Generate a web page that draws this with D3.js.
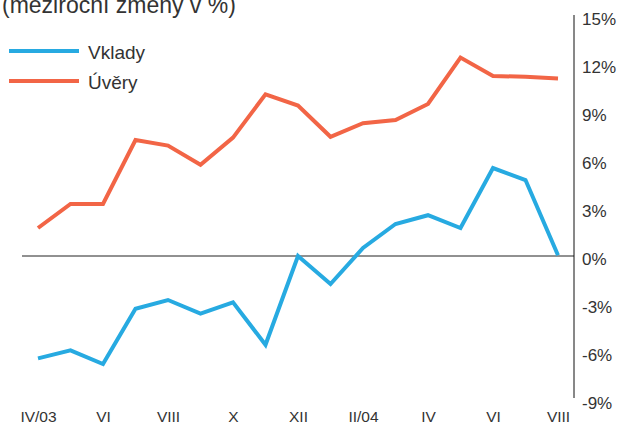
<!DOCTYPE html>
<html>
<head>
<meta charset="utf-8">
<script src="https://cdn.jsdelivr.net/npm/d3@7"></script>
<style>
  body { margin: 0; background: #fff; }
  text { font-family: "Liberation Sans", Arial, sans-serif; fill: #333; }
</style>
</head>
<body>
<div id="chart"></div>
<script>
// Data (year-on-year changes, %), monthly IV/2003 - VIII/2004
var months = ["2003-04", "2003-05", "2003-06", "2003-07", "2003-08", "2003-09",
              "2003-10", "2003-11", "2003-12", "2004-01", "2004-02", "2004-03",
              "2004-04", "2004-05", "2004-06", "2004-07", "2004-08"];
var tickMonths = ["2003-04", "2003-06", "2003-08", "2003-10", "2003-12",
                  "2004-02", "2004-04", "2004-06", "2004-08"];
var tickLabels = ["IV/03", "VI", "VIII", "X", "XII", "II/04", "IV", "VI", "VIII"];
var vklady = [-6.4, -5.9, -6.75, -3.3, -2.75, -3.6, -2.9, -5.55, 0.0,
              -1.75, 0.5, 2.0, 2.55, 1.75, 5.5, 4.75, 0.05];
var uvery = [1.75, 3.25, 3.25, 7.25, 6.9, 5.7, 7.4, 10.1, 9.4,
             7.45, 8.3, 8.5, 9.5, 12.4, 11.25, 11.2, 11.1];
var yTicks = [15, 12, 9, 6, 3, 0, -3, -6, -9];

var width = 622;
var height = 425;

var svg = d3.select("#chart")
    .append("svg")
    .attr("width", width)
    .attr("height", height);

// Scales
var xScale = d3.scalePoint()
    .domain(months)
    .range([38, 558]);

var yScale = d3.scaleLinear()
    .domain([-9, 15])
    .range([400, 16]);

// Zero line
svg.append("line")
    .attr("x1", 22)
    .attr("x2", 574)
    .attr("y1", yScale(0))
    .attr("y2", yScale(0))
    .attr("stroke", "#222")
    .attr("stroke-width", 1);

// Right axis
var yAxis = svg.append("g")
    .attr("transform", "translate(574,0)")
    .call(d3.axisRight(yScale).tickValues(yTicks).tickSize(0).tickPadding(8)
        .tickFormat(function(d) { return d + "%"; }));
yAxis.select(".domain")
    .attr("d", "M0," + (yScale(15) - 1) + "V" + (yScale(-9) - 2))
    .attr("stroke", "#111");
yAxis.selectAll("text")
    .style("font-size", "17px")
    .style("font-family", "'Liberation Sans', Arial, sans-serif")
    .attr("fill", "#444")
    .attr("dy", "0.48em");

// Bottom labels
var xAxis = svg.append("g")
    .attr("transform", "translate(0,411)")
    .call(d3.axisBottom(xScale).tickValues(tickMonths)
        .tickSize(0).tickPadding(0)
        .tickFormat(function(d, i) { return tickLabels[i]; }));
xAxis.select(".domain").remove();
xAxis.selectAll("text")
    .style("font-size", "15.5px")
    .style("font-family", "'Liberation Sans', Arial, sans-serif")
    .attr("fill", "#444");

// Lines
var line = d3.line()
    .x(function(d, i) { return xScale(months[i]); })
    .y(function(d) { return yScale(d); });

svg.append("path")
    .datum(uvery)
    .attr("fill", "none")
    .attr("stroke", "#f26546")
    .attr("stroke-width", 4)
    .attr("d", line);

svg.append("path")
    .datum(vklady)
    .attr("fill", "none")
    .attr("stroke", "#27aae1")
    .attr("stroke-width", 4)
    .attr("d", line);

// Title (partly cut off at top, as in the original)
svg.append("text")
    .attr("x", 2)
    .attr("y", 13)
    .style("font-size", "23px")
    .text("(meziroční změny v %)");

// Legend
var legend = svg.append("g");
legend.append("line")
    .attr("x1", 9).attr("x2", 79)
    .attr("y1", 51).attr("y2", 51)
    .attr("stroke", "#27aae1").attr("stroke-width", 4);
legend.append("text")
    .attr("x", 88).attr("y", 59)
    .style("font-size", "19px")
    .text("Vklady");
legend.append("line")
    .attr("x1", 9).attr("x2", 79)
    .attr("y1", 81).attr("y2", 81)
    .attr("stroke", "#f26546").attr("stroke-width", 4);
legend.append("text")
    .attr("x", 88).attr("y", 89)
    .style("font-size", "19px")
    .text("Úvěry");
</script>
</body>
</html>
